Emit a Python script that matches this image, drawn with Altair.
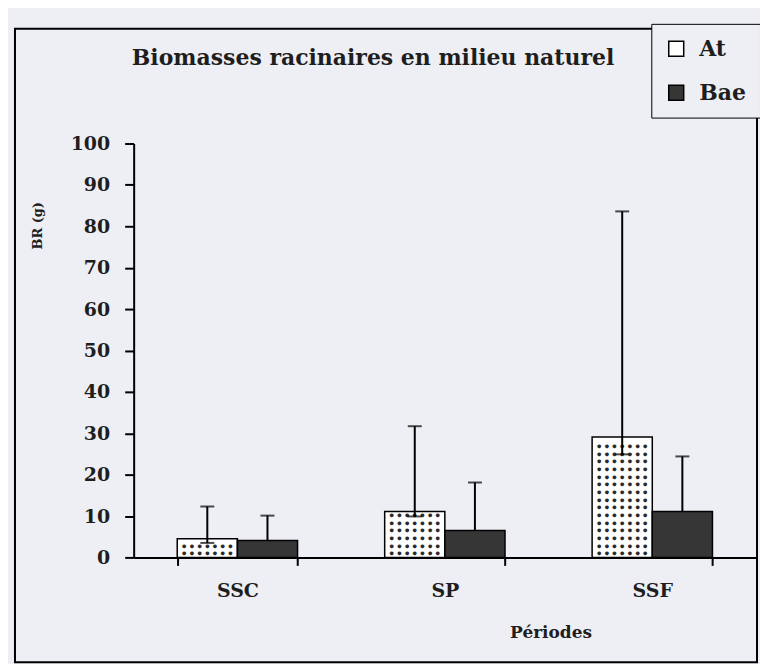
import altair as alt
import pandas as pd

# ---- data ----
categories = ["SSC", "SP", "SSF"]
series = ["At", "Bae"]
at_values = [4.5, 11.1, 29.1]
bae_values = [4.1, 6.5, 11.1]
at_err_high = [12.3, 31.7, 83.6]
at_err_low = [3.5, 9.9, 24.9]
bae_err_high = [10.1, 18.1, 24.4]
y_ticks = [0, 10, 20, 30, 40, 50, 60, 70, 80, 90, 100]

TITLE = "Biomasses racinaires en milieu naturel"
Y_TITLE = "BR (g)"
X_TITLE = "Périodes"

rows = []
for i, c in enumerate(categories):
    rows.append({"cat": c, "series": "At", "value": at_values[i],
                 "lo": at_err_low[i], "hi": at_err_high[i]})
    rows.append({"cat": c, "series": "Bae", "value": bae_values[i],
                 "lo": bae_values[i], "hi": bae_err_high[i]})
df = pd.DataFrame(rows)

W, H = 624, 415
FONT = "DejaVu Serif"
BG = "#eeeff4"
DARK = "#363636"
INK = "#1e1e1e"

x_axis = alt.Axis(title=X_TITLE, labelAngle=0, tickBand="extent", tickSize=8,
                  labelPadding=16, labelFontSize=19, labelFont=FONT,
                  titleFontSize=17, titleFont=FONT, titleX=418, titleY=75,
                  titleAlign="center", titleBaseline="middle", grid=False)
y_axis = alt.Axis(values=y_ticks, title=Y_TITLE, tickSize=9, labelPadding=15,
                  labelFontSize=19, labelFont=FONT, titleFontSize=13, titleFont=FONT,
                  titleX=-96, titleY=82, titleAngle=270, titleAlign="center",
                  titleBaseline="middle", grid=False)

x_enc = alt.X("cat:N", sort=categories,
              scale=alt.Scale(paddingInner=0.42, paddingOuter=0.21), axis=x_axis)
xo_enc = alt.XOffset("series:N", sort=series,
                     scale=alt.Scale(paddingInner=0, paddingOuter=0))
y_scale = alt.Scale(domain=[0, 100], nice=False)

bars = alt.Chart(df).mark_bar(stroke="black", strokeWidth=1.5).encode(
    x=x_enc, xOffset=xo_enc,
    y=alt.Y("value:Q", scale=y_scale, axis=y_axis),
    fill=alt.Fill("series:N", scale=alt.Scale(domain=series, range=["white", DARK]),
                  legend=alt.Legend(title=None, orient="none", legendX=519, legendY=-120,
                                    strokeColor="black", fillColor=BG, padding=14,
                                    rowPadding=22, symbolType="square", symbolSize=225,
                                    symbolStrokeColor="black", symbolStrokeWidth=1.5,
                                    labelFont=FONT, labelFontSize=22, labelFontWeight="bold",
                                    labelColor=INK, labelOffset=12)),
)

# dotted texture of the "At" bars
dots = alt.Chart(df).transform_filter("datum.series == 'At'").transform_calculate(
    rows="sequence(1.0, datum.value - 0.5, 1.85)"
).transform_flatten(["rows"]).mark_text(
    text="● ● ● ● ● ● ●", font="DejaVu Sans Mono", fontSize=6.4, color="#2a2a2a"
).encode(
    x=x_enc, xOffset=xo_enc,
    y=alt.Y("rows:Q", scale=y_scale, axis=y_axis),
)

rules = alt.Chart(df).mark_rule(color="black", strokeWidth=2).encode(
    x=x_enc, xOffset=xo_enc,
    y=alt.Y("lo:Q", scale=y_scale, axis=y_axis), y2="hi:Q",
)

ticks_hi = alt.Chart(df).mark_tick(color="black", size=14, thickness=2).encode(
    x=x_enc, xOffset=xo_enc,
    y=alt.Y("hi:Q", scale=y_scale, axis=y_axis),
)

ticks_lo = alt.Chart(df).transform_filter("datum.series == 'At'").mark_tick(
    color="black", size=14, thickness=2
).encode(
    x=x_enc, xOffset=xo_enc,
    y=alt.Y("lo:Q", scale=y_scale, axis=y_axis),
)

frame = alt.Chart(pd.DataFrame({"k": [0]})).mark_rect(
    fill="transparent", stroke="black", strokeWidth=2
).encode(x=alt.value(-119), x2=alt.value(625), y=alt.value(-115), y2=alt.value(520))

title_text = alt.Chart(pd.DataFrame({"t": [TITLE]})).mark_text(
    font=FONT, fontSize=22, fontWeight="bold", color=INK
).encode(x=alt.value(240), y=alt.value(-86), text="t:N")

chart = alt.layer(bars, dots, rules, ticks_hi, ticks_lo, frame, title_text).properties(
    width=W, height=H,
    autosize=alt.AutoSizeParams(type="none"),
    padding={"left": 126, "top": 135, "right": 4, "bottom": 106},
).configure(background=BG).configure_view(stroke=None).configure_axis(
    domainColor="black", domainWidth=2, tickColor="black", tickWidth=2,
    labelColor=INK, titleColor=INK, labelFontWeight="bold", titleFontWeight="bold",
)

chart.save("out.html", embed_options={"renderer": "svg", "actions": False})
